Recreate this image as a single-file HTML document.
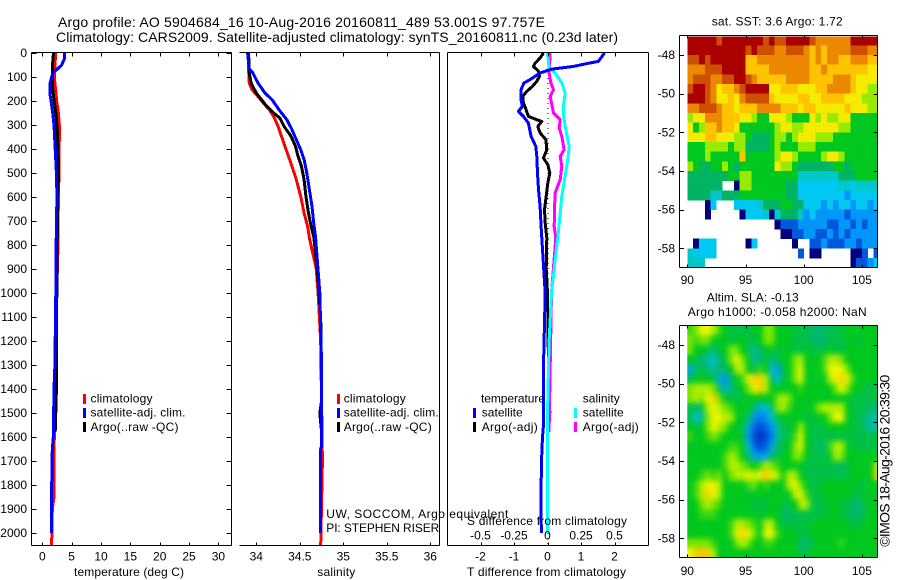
<!DOCTYPE html>
<html>
<head>
<meta charset="utf-8">
<title>Argo profile</title>
<style>
html,body{margin:0;padding:0;background:#fff;}
svg{display:block;font-family:"Liberation Sans",Arial,sans-serif;font-size:12px;fill:#000;}
</style>
</head>
<body>
<svg id="fig" xmlns="http://www.w3.org/2000/svg" width="900" height="580" viewBox="0 0 900 580">
<defs>
<filter id="sla-smooth" filterUnits="userSpaceOnUse" x="687" y="326" width="190" height="231" color-interpolation-filters="sRGB">
<feGaussianBlur in="SourceGraphic" stdDeviation="3" result="soft"/>
<feMerge><feMergeNode in="SourceGraphic"/><feMergeNode in="soft"/></feMerge>
</filter>
</defs>
<rect x="0" y="0" width="900" height="580" fill="#fff"/>
<text x="58" y="27" font-size="14" textLength="487">Argo profile: AO 5904684_16 10-Aug-2016 20160811_489 53.001S 97.757E</text>
<text x="56" y="42" font-size="14" textLength="562">Climatology: CARS2009. Satellite-adjusted climatology: synTS_20160811.nc (0.23d later)</text>

<g id="maps"></g>
<g id="curves"></g>
<g id="axes" shape-rendering="crispEdges"></g>
<g id="ticklabels"></g>

<text x="74" y="576" textLength="110">temperature (deg C)</text>
<text x="317.3" y="576" textLength="38">salinity</text>
<text x="467" y="525" textLength="160">S difference from climatology</text>
<text x="467" y="576" textLength="159">T difference from climatology</text>

<g>
<rect x="83" y="394" width="3" height="10" fill="#f00" shape-rendering="crispEdges"/>
<text x="90.5" y="402.5" textLength="62">climatology</text>
<rect x="83" y="408" width="3" height="10" fill="#00f" shape-rendering="crispEdges"/>
<text x="90.5" y="416.5" textLength="95">satellite-adj. clim.</text>
<rect x="83" y="422" width="3" height="10" fill="#000" shape-rendering="crispEdges"/>
<text x="90.5" y="431" textLength="88">Argo(..raw -QC)</text>
</g>
<g>
<rect x="337" y="394" width="3" height="10" fill="#f00" shape-rendering="crispEdges"/>
<text x="343.7" y="402.5" textLength="62">climatology</text>
<rect x="337" y="408" width="3" height="10" fill="#00f" shape-rendering="crispEdges"/>
<text x="343.7" y="416.5" textLength="95">satellite-adj. clim.</text>
<rect x="337" y="422" width="3" height="10" fill="#000" shape-rendering="crispEdges"/>
<text x="343.7" y="431" textLength="88">Argo(..raw -QC)</text>
</g>
<g>
<text x="481" y="402.5" textLength="64">temperature</text>
<rect x="473" y="408" width="3" height="10" fill="#00f" shape-rendering="crispEdges"/>
<text x="481.7" y="416.5" textLength="41">satellite</text>
<rect x="473" y="422" width="3" height="10" fill="#000" shape-rendering="crispEdges"/>
<text x="481.7" y="431" textLength="56">Argo(-adj)</text>
<text x="582.7" y="402.5" textLength="37">salinity</text>
<rect x="574" y="408" width="3" height="10" fill="#0ff" shape-rendering="crispEdges"/>
<text x="582.7" y="416.5" textLength="41">satellite</text>
<rect x="574" y="422" width="3" height="10" fill="#f0f" shape-rendering="crispEdges"/>
<text x="582.7" y="431" textLength="56">Argo(-adj)</text>
</g>

<text x="326.3" y="518" textLength="182">UW, SOCCOM, Argo equivalent</text>
<text x="326.3" y="532" textLength="113">PI: STEPHEN RISER</text>

<text x="711.7" y="25.7" textLength="131">sat. SST: 3.6 Argo: 1.72</text>
<text x="706.7" y="301.7" textLength="92">Altim. SLA: -0.13</text>
<text x="687.7" y="316" textLength="179">Argo h1000: -0.058 h2000: NaN</text>
<text transform="translate(889.3,546.7) rotate(-90)" font-size="14" textLength="172">©IMOS 18-Aug-2016 20:39:30</text>
</svg>

<script>
/* ---------- temperature profile data ---------- */
const tempClimDepths = [0,50,100,200,250,300,350,500,600,900,1000,1300,1700,1850,1900,2000,2050];
const tempClimValues = [2.3,2.15,2.05,2.45,2.75,2.9,2.9,2.85,2.75,2.6,2.3,2.2,2.0,2.0,1.7,1.65,1.55];
const tempSatDepths = [0,25,50,70,80,100,130,170,200,250,300,400,500,600,700,1000,1300,1400,1600,1650,1800,2000];
const tempSatValues = [3.75,3.75,3.3,2.45,1.87,1.6,1.3,1.3,1.5,1.77,2.0,2.2,2.4,2.5,2.4,2.3,2.15,2.0,1.87,1.7,1.6,1.53];
const tempArgoDepths = [0,58,150,250,300,400,500,600,900,1200,1400,1580];
const tempArgoValues = [1.9,1.7,1.75,2.3,2.5,2.67,2.8,2.6,2.5,2.4,2.4,2.2];

/* ---------- salinity profile data ---------- */
const salClimDepths = [0,67,125,153,181,208,236,264,306,347,389,431,472,528,597,667,722,771,900,1000,1200,1700,2050];
const salClimValues = [33.91,33.91,33.92,33.95,34.02,34.08,34.15,34.2,34.25,34.29,34.33,34.37,34.41,34.46,34.51,34.55,34.59,34.61,34.69,34.71,34.74,34.76,34.74];
const salSatDepths = [0,67,83,125,167,194,236,278,320,361,403,444,500,569,639,708,764,1000,1300,1640,1650,2000];
const salSatValues = [33.9,33.92,33.96,34.02,34.1,34.18,34.26,34.35,34.41,34.46,34.51,34.55,34.58,34.61,34.64,34.66,34.68,34.73,34.75,34.75,34.74,34.74];
const salArgoDepths = [0,67,83,125,167,194,222,250,271,306,347,389,431,472,528,597,667,722,764,900,1100,1450,1500,1580];
const salArgoValues = [33.91,33.92,33.92,33.94,34.0,34.06,34.12,34.2,34.27,34.32,34.4,34.45,34.48,34.52,34.55,34.57,34.6,34.63,34.66,34.7,34.74,34.75,34.73,34.75];

/* ---------- difference data ---------- */
const diffTSatDepths = [0,35,44,56,67,83,111,125,153,194,222,243,264,292,347,389,431,500,569,639,722,771,1000,1300,1550,1600,1700,1900,2000];
const diffTSatValues = [1.7,1.52,1.17,0.78,0.13,-0.22,-0.52,-0.7,-0.79,-0.79,-0.75,-0.87,-0.72,-0.57,-0.49,-0.35,-0.32,-0.3,-0.27,-0.22,-0.19,-0.17,-0.07,-0.12,-0.12,-0.15,-0.18,-0.2,-0.18];
const diffTArgoDepths = [0,21,42,56,76,97,118,139,160,181,208,236,264,278,285,306,333,361,403,438,465,500,542,597,653,708,771,900,1000,1300,1500];
const diffTArgoValues = [-0.12,-0.22,-0.37,-0.42,-0.27,-0.24,-0.32,-0.45,-0.62,-0.74,-0.72,-0.64,-0.57,-0.32,-0.17,-0.29,-0.22,-0.05,-0.02,-0.12,0.01,0.07,0.01,-0.04,-0.09,-0.07,-0.02,-0.04,0,0.03,0.07];
const diffSSatDepths = [0,62,83,125,167,222,257,306,389,417,472,528,597,667,771,800,1000,1200,1500,2000];
const diffSSatValues = [0,0.012,0.057,0.107,0.132,0.119,0.119,0.132,0.162,0.157,0.144,0.127,0.107,0.095,0.077,0.07,0.03,0.012,0,0];
const diffSArgoDepths = [0,56,83,125,153,181,215,250,278,313,347,403,431,472,528,583,653,722,771,1000,1300,1580];
const diffSArgoValues = [0.02,0.015,0.012,0.025,0.045,0.02,0.032,0.045,0.095,0.087,0.107,0.124,0.095,0.107,0.095,0.057,0.052,0.05,0.062,0.03,0.02,0.012];

/* ---------- axis tick labels ---------- */
const depthTicks = [0,100,200,300,400,500,600,700,800,900,1000,1100,1200,1300,1400,1500,1600,1700,1800,1900,2000];
const tempTicks = [0,5,10,15,20,25,30];
const salTicks = [34,34.5,35,35.5,36];
const diffTTicks = [-2,-1,0,1,2];
const diffSTicks = [-0.5,-0.25,0,0.25,0.5];
const lonTicks = [90,95,100,105];
const latTicks = [-48,-50,-52,-54,-56,-58];

/* ---------- map grids: 0.5 degree cells, first row -47, first column 90E. null = no data ---------- */
const n = null;
const sstGrid = [
[12,12,12,12,12,11,12,12,12,12,12,12,12,11,12,11,11,12,12,12,12,11,10,10,10,10,10,10,12,12,12,12,12],
[12,12,12,12,12,12,12,12,12,12,11,12,11,11,11,10,10,11,11,11,10,9,10,9,10,10,10,10,11,11,11,10,10],
[11,11,12,11,12,12,12,12,12,12,9,9,10,10,10,10,10,10,10,10,10,9,10,9,10,10,9,9,10,10,10,9,9],
[10,10,10,11,11,11,12,12,12,12,9,9,9,9,10,10,10,10,10,10,10,9,9,10,9,9,9,9,9,9,9,8,8],
[10,11,11,11,10,10,11,11,12,12,11,10,9,9,9,9,9,10,10,10,10,9,9,9,9,10,10,10,9,8,8,8,8],
[11,12,12,11,10,8,9,9,10,11,12,12,12,12,8,8,9,9,9,8,8,8,9,9,10,10,10,10,9,8,8,7,7],
[12,12,12,11,10,8,8,9,8,10,11,11,11,11,9,8,8,8,8,9,9,8,8,9,9,9,9,8,8,8,7,7,7],
[10,10,11,11,11,10,9,9,8,9,9,9,10,10,10,10,9,9,9,8,9,9,8,8,8,8,8,9,8,8,8,7,7],
[7,8,8,10,10,10,9,9,9,8,8,7,6,6,8,8,8,7,6,6,6,8,7,8,7,7,8,8,6,6,6,6,6],
[8,6,7,9,9,10,9,9,8,6,6,6,6,6,6,7,8,8,7,7,8,8,8,8,8,8,7,7,6,6,6,6,6],
[8,8,8,9,9,8,8,8,7,7,6,5,5,5,6,7,7,6,7,8,8,8,7,7,7,6,6,6,6,6,6,6,6],
[6,6,6,7,7,7,7,6,7,7,5,5,5,5,6,7,6,6,6,7,7,7,6,6,6,6,6,6,6,6,6,6,6],
[6,6,6,7,6,6,6,6,6,9,6,6,6,6,6,7,8,8,7,6,6,6,6,7,8,8,7,6,6,6,6,6,6],
[7,6,5,5,6,6,7,6,5,6,6,6,6,6,6,8,7,7,6,5,5,5,5,5,5,6,6,5,6,6,6,6,6],
[5,5,5,5,5,5,5,6,6,7,7,6,6,6,6,6,6,6,6,4,4,4,4,4,4,4,5,5,5,6,6,6,6],
[5,5,5,5,5,5,n,n,0,7,7,6,6,6,6,6,6,5,5,3,3,3,3,3,3,3,4,4,3,4,4,4,4],
[5,5,5,5,4,4,5,5,5,6,6,6,6,6,6,6,6,5,5,3,3,3,3,3,3,3,3,2,3,3,3,3,3],
[n,n,n,0,3,n,n,n,3,3,3,3,4,5,5,5,6,6,5,5,3,3,3,2,3,2,3,3,2,3,3,2,3],
[n,n,n,0,n,n,n,n,n,0,3,3,3,4,0,4,5,5,5,4,2,3,2,2,2,2,2,1,2,2,2,2,2],
[n,n,n,n,n,n,n,n,n,n,n,n,n,n,n,0,1,1,1,2,2,2,2,2,1,1,2,2,1,2,1,2,2],
[n,n,n,n,n,n,n,n,n,n,n,n,n,n,n,n,0,0,1,1,2,2,1,1,2,1,2,1,2,2,2,2,2],
[n,0,3,3,3,n,n,n,n,n,0,3,n,n,n,n,n,n,0,n,n,1,1,2,1,1,1,2,2,1,2,2,2],
[4,3,3,3,3,n,n,n,n,n,n,n,n,n,n,n,n,n,n,1,n,0,0,n,n,n,n,n,0,0,1,n,1],
[4,4,4,n,n,n,n,n,n,n,n,n,n,n,n,n,n,n,n,n,n,n,n,n,n,n,n,n,0,1,1,2,3]
];
const slaGrid = [
[6.5,7,8,8,7.5,6.5,6,5.5,5.5,5.5,5.5,6,6,7,7,6,6,6,5.5,5.5,5.5,5,5,5,5.5,5.5,5.5,6,6,6,6,6,6],
[7,6.5,7,7,6,6,6,5.5,6,6,5.5,5.5,6,7,7,6,6,6,5.5,5.5,5.5,5,5,5,5.5,5.5,5.5,6,6,5.5,6,6,6],
[7,6,6,5.5,5,5.5,6,7,7,6,5.5,4.5,5,6,6,5.5,6,6,5.5,5.5,6,5.5,5.5,5.5,6,5.5,5.5,6,6,6,6,6,6],
[6,5.5,5,4.5,4,5,5.5,7,8,7,6,4.5,5,5.5,5,5,6,6,7,7.5,6,6,6,6.5,7.5,7.5,7,6,6,6,6,6,6],
[3.5,5,5.5,5,4.5,5,5,6,7.5,7.5,6,5.5,6.5,6,4,3,5.5,6,7,8,6,6,6,6.5,8,8,8,7,6,6,6,6,6],
[5,6,6,6,5.5,3.5,3,5,6,6.5,8,8.5,8.5,7.5,5,4,5.5,6,7,8,6,6,6,6,7.5,8,8.5,8,6.5,6,6,6,6],
[7,7.5,7.5,7.5,7,5.5,3.5,5,5.5,6,7,8,8.5,7.5,6,6,6,6,6,6.5,6,6,6,6,6,7,8,7,6,6,5.5,5.5,5.5],
[7,7.5,7,8,8.5,7,6,5.5,5.5,5.5,6,6,6,6,6,7,7.5,7,6,6,6,6,6,6,6,6,6,6,5.5,5.5,5.5,5.5,5.5],
[5.5,5,5.5,7.5,8,7.5,7,6.5,6,6,6,5,3.5,4,5,7,7.5,6.5,6,6,6,6,7,7.5,7.5,7.5,7.5,6,5.5,5.5,5.5,5,5],
[5.5,4,4.5,7,8,8,7.5,7.5,6,6,5,3,2.5,3,4,5.5,6,6,6,6,5.5,5.5,6,6,7,8,8,6,5.5,5.5,5,4.5,4.5],
[6,5.5,6,7,8,7.5,7,6,6,5.5,3.5,2,1.5,2,3,4.5,5.5,5.5,6,7.5,6,5.5,5.5,5.5,6,6,6,6,5.5,5.5,5,4.5,4.5],
[6.5,6,6,6.5,7,6.5,6,6,6,5.5,3,1.5,1,1.5,2.5,4.5,5.5,5.5,6.5,8,6,5.5,5.5,5.5,5.5,5.5,5.5,5.5,5.5,5.5,5.5,5.5,5.5],
[6,6,6,6,6,6,6,6.5,6.5,6,4,2,1.5,2,3.5,5,5.5,6,7,8,6,5.5,5,5,6.5,7.5,7.5,6,5.5,5.5,5.5,5.5,5.5],
[6,6,6,6,6,6,6.5,7.5,7,6,5,3.5,3,3.5,5,5.5,6,6,7,7,6,5.5,5.5,5.5,6,7.5,7,6,6,6,6,6,6],
[6,6,6,6,6,6,6.5,7.5,7.5,7,6.5,6,6.5,7.5,7,6.5,6,6,6,6,5.5,5.5,5.5,5.5,5.5,5.5,5,5.5,6,6,6,6,7.5],
[6,6,6.5,7,6.5,7,6,7,7.5,7.5,8,7.5,8,8.7,8,7.5,6,7.5,7.5,6,5.5,5.5,5.5,5.5,5.5,5.5,5.5,5.5,6,6,6,6,8.5],
[6,6.5,7.5,8,8,7.5,6,6,6,6,6.5,7,6,6.5,6,6,6,7.5,8,7,6,5.5,5.5,6,6,6,6,6,6,5.5,5.5,6,6],
[6,6.5,7.5,8.5,8,7.5,6,6,6,6,5.5,6,6,6,6,6,6,6,7.5,8,6.5,5.5,5.5,6,6,6,6,6,5.5,5.5,6,6,5.5],
[6,6,7,7.5,7,6.5,6,6,6,6,6,5.5,5.5,5.5,6,6,5.5,5.5,6,7.5,7.5,5.5,5.5,5.5,6,6,5.5,5.5,5,5,5.5,6,6],
[6,6,6.5,6.5,6.5,6,6,6,6,6,6,6,5.5,6,6,6,5,5,5.5,5.5,5.5,5.5,5.5,5.5,6,6,5.5,5.5,5,5,5.5,6,6],
[6,6,6,6,6,6,6,6.5,7.5,7.5,7,6.5,6,7.5,7.5,6,5.5,5.5,5.5,5.5,5.5,6,6,6,6,6,6,6,5.5,5.5,6,6,6],
[6,6,6,6,6,6,6,6.5,8,8.5,8,7,6,8,8,6.5,6,6,6,5.5,5.5,6,6,6,6,6,6,6,6,6,6,6,6],
[7,7,7,7,6.5,6,6,6,7,7.5,7,6,6,6.5,6.5,6,6,6,6,5,5,5.5,6,6,6,6,6.5,6,6,6,6,6,6],
[8,8.5,8.7,8.5,7.5,6,6,6,6,6,6,6,6,6,6,6,6,6,6,5.5,5.5,6,6,6,6,6,6,6,6,6,6,6,6]
];

/* ---------- helpers ---------- */
const NS = "http://www.w3.org/2000/svg";
function mk(parent, tag, attrs, text) {
  const el = document.createElementNS(NS, tag);
  for (const k in attrs) el.setAttribute(k, attrs[k]);
  if (text !== undefined) el.textContent = text;
  parent.appendChild(el);
  return el;
}
const gMaps = document.getElementById("maps");
const gCurves = document.getElementById("curves");
const gAxes = document.getElementById("axes");
const gLabels = document.getElementById("ticklabels");

/* axis functions */
const depthY = d => 53 + d * 0.24;
const tempX = t => 42.3 + t * 5.87;
const salX = s => 256.3 + (s - 34) * 87;
const diffTX = t => 547.5 + t * 33.5;
const diffSX = s => 547.5 + s * 134;
const lonX = lon => 687.3 + (lon - 90) * 11.64;
const latY1 = lat => 55 + (-48 - lat) * 19.33;
const latY2 = lat => 345 + (-48 - lat) * 19.33;

/* profile line from data arrays */
function drawLine(name, depths, values, xFn, color) {
  const pts = depths.map((d, i) => xFn(values[i]).toFixed(1) + "," + depthY(d).toFixed(1)).join(" ");
  const el = mk(gCurves, "polyline", {points: pts, fill: "none", stroke: color, "stroke-width": 3, "stroke-linejoin": "round", "shape-rendering": "crispEdges"});
  
  
}

/* temperature panel */
drawLine("temperature-climatology-line", tempClimDepths, tempClimValues, tempX, "#f00");
drawLine("temperature-argo-line", tempArgoDepths, tempArgoValues, tempX, "#000");
drawLine("temperature-satellite-line", tempSatDepths, tempSatValues, tempX, "#00f");
/* salinity panel */
drawLine("salinity-climatology-line", salClimDepths, salClimValues, salX, "#f00");
drawLine("salinity-argo-line", salArgoDepths, salArgoValues, salX, "#000");
drawLine("salinity-satellite-line", salSatDepths, salSatValues, salX, "#00f");
/* difference panel */
const zeroLine = mk(gCurves, "line", {x1: diffTX(0)+0.5, x2: diffTX(0)+0.5, y1: 53, y2: 546, stroke: "#000", "stroke-width": 1, "stroke-dasharray": "1 4", "shape-rendering": "crispEdges"});


drawLine("t-difference-argo-line", diffTArgoDepths, diffTArgoValues, diffTX, "#000");
drawLine("s-difference-argo-line", diffSArgoDepths, diffSArgoValues, diffSX, "#f0f");
drawLine("s-difference-satellite-line", diffSSatDepths, diffSSatValues, diffSX, "#0ff");
drawLine("t-difference-satellite-line", diffTSatDepths, diffTSatValues, diffTX, "#00f");

/* axes */
function spine(name, x1, y1, x2, y2) {
  const el = mk(gAxes, "line", {x1, y1, x2, y2, stroke: "#000", "stroke-width": 1});
  
  
}
function tick(x1, y1, x2, y2) {
  const el = mk(gAxes, "line", {x1, y1, x2, y2, stroke: "#000", "stroke-width": 1});
  
  
}
function label(x, y, anchor, txt) {
  const el = mk(gLabels, "text", {x, y, "text-anchor": anchor}, txt);
  
  
}

/* panel 1 frame */
spine("temperature-panel-left-spine", 31.5, 52.5, 31.5, 545.5);
spine("temperature-panel-right-spine", 231.5, 52.5, 231.5, 545.5);
spine("temperature-panel-top-spine", 31.5, 52.5, 231.5, 52.5);
spine("temperature-panel-bottom-spine", 31.5, 545.5, 231.5, 545.5);
depthTicks.forEach(d => {
  const y = Math.round(depthY(d)) + 0.5;
  tick(31.5, y, 36.5, y);
  tick(226.5, y, 231.5, y);
  label(27, depthY(d) + 4, "end", String(d));
});
tempTicks.forEach(t => {
  const x = Math.round(tempX(t)) + 0.5;
  tick(x, 52.5, x, 56.5);
  tick(x, 545.5, x, 542.5);
  label(tempX(t), 560.7, "middle", String(t));
});

/* panel 2 frame */
spine("salinity-panel-right-spine", 439.5, 52.5, 439.5, 545.5);
spine("salinity-panel-top-spine", 239.5, 52.5, 439.5, 52.5);
spine("salinity-panel-bottom-spine", 239.5, 545.5, 439.5, 545.5);
salTicks.forEach(s => {
  const x = Math.round(salX(s)) + 0.5;
  tick(x, 52.5, x, 56.5);
  tick(x, 545.5, x, 542.5);
  label(salX(s), 560.7, "middle", String(s));
});

/* panel 3 frame */
spine("difference-panel-left-spine", 447.5, 52.5, 447.5, 545.5);
spine("difference-panel-right-spine", 648.5, 52.5, 648.5, 545.5);
spine("difference-panel-top-spine", 447.5, 52.5, 648.5, 52.5);
spine("difference-panel-bottom-spine", 447.5, 545.5, 648.5, 545.5);
diffTTicks.forEach(t => {
  const x = Math.round(diffTX(t)) + 0.5;
  tick(x, 52.5, x, 56.5);
  tick(x, 545.5, x, 542.5);
  label(diffTX(t), 560.5, "middle", String(t));
});
diffSTicks.forEach(s => {
  label(diffSX(s), 539.5, "middle", String(s));
});

/* map colours */
const sstPalette = ["#00007d","#0058dc","#0096fa","#00c8f0","#00c8c8","#00b464","#00c81e","#96eb00","#f5eb00","#ffc300","#eb8700","#cd5000","#aa0000"];
const slaStops = [[1,[0,50,190]],[2,[0,100,230]],[3,[0,150,240]],[4,[0,190,210]],[5,[0,185,110]],[6,[0,200,30]],[7,[120,230,0]],[8,[235,245,0]],[9,[255,170,0]]];
function slaColor(v) {
  for (let i = 0; i < slaStops.length - 1; i++) {
    const a = slaStops[i], b = slaStops[i + 1];
    if (v <= b[0]) {
      const f = Math.max(0, (v - a[0]) / (b[0] - a[0]));
      return "rgb(" + a[1].map((c, k) => Math.round(c + (b[1][k] - c) * f)).join(",") + ")";
    }
  }
  return "rgb(255,170,0)";
}

/* heatmaps */
const lonStart = 90, latStart = -47, cellDeg = 0.5;
function drawMap(name, grid, yFn, colorFn, yTop, yBottom, filterId) {
  const g = mk(gMaps, "g", {"shape-rendering": "crispEdges"});
  
  
  if (filterId) g.setAttribute('filter', 'url(#' + filterId + ')');
  grid.forEach((row, r) => {
    row.forEach((v, c) => {
      if (v === null) return;
      const lon = lonStart + c * cellDeg;
      const lat = latStart - r * cellDeg;
      const x1 = lonX(lon), x2 = Math.min(lonX(lon + cellDeg), 877);
      const y1 = Math.max(yFn(lat), yTop), y2 = Math.min(yFn(lat - cellDeg), yBottom);
      const el = mk(g, "rect", {x: x1.toFixed(2), y: y1.toFixed(2), width: (x2 - x1 + 0.3).toFixed(2), height: (y2 - y1 + 0.3).toFixed(2), fill: colorFn(v)});
      
      
    });
  });
}
drawMap("sst-heatmap", sstGrid, latY1, v => sstPalette[Math.round(v)], 36.5, 267);
drawMap("sla-heatmap", slaGrid, latY2, slaColor, 326, 557, "sla-smooth");

/* map frames */
function mapFrame(prefix, top, bottom, yFn, labelY) {
  spine(prefix + "-left-spine", 679.5, top, 679.5, bottom);
  spine(prefix + "-right-spine", 877.5, top, 877.5, bottom);
  spine(prefix + "-top-spine", 679.5, top, 877.5, top);
  spine(prefix + "-bottom-spine", 679.5, bottom, 877.5, bottom);
  lonTicks.forEach(l => {
    const x = Math.round(lonX(l)) + 0.5;
    tick(x, top, x, top + 3);
    tick(x, bottom, x, bottom - 3);
    label(lonX(l), labelY, "middle", String(l));
  });
  latTicks.forEach(l => {
    const y = Math.round(yFn(l)) + 0.5;
    tick(679.5, y, 684, y);
    tick(873.5, y, 877.5, y);
    label(675, yFn(l) + 4, "end", String(l));
  });
}
mapFrame("sst-map", 35.5, 267.5, latY1, 284);
mapFrame("sla-map", 325.5, 557.5, latY2, 575);
</script>
</body>
</html>
